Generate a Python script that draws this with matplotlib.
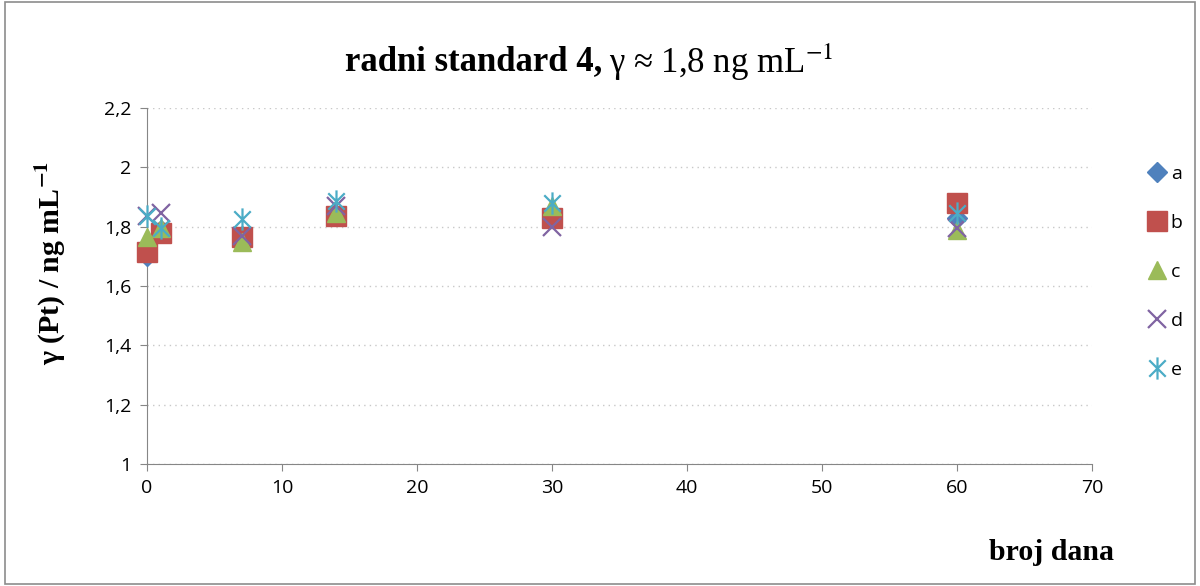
import matplotlib
matplotlib.use("Agg")
import matplotlib.pyplot as plt
from matplotlib.path import Path
from matplotlib.patches import Rectangle
import matplotlib.ticker as mticker

plt.rcParams["mathtext.fontset"] = "stix"

days = [0, 1, 7, 14, 30, 60]
series_names = ["a", "b", "c", "d", "e"]
a = [1.70, 1.79, 1.77, 1.84, 1.84, 1.83]
b = [1.715, 1.78, 1.765, 1.835, 1.83, 1.88]
c = [1.765, 1.795, 1.75, 1.845, 1.87, 1.79]
d = [1.835, 1.845, 1.77, 1.87, 1.80, 1.795]
e = [1.835, 1.795, 1.825, 1.885, 1.88, 1.845]
x_ticks = [0, 10, 20, 30, 40, 50, 60, 70]
y_ticks = [1.0, 1.2, 1.4, 1.6, 1.8, 2.0, 2.2]

star = Path([(-1, -1), (1, 1), (-1, 1), (1, -1), (0, -1.35), (0, 1.35)],
            [Path.MOVETO, Path.LINETO, Path.MOVETO, Path.LINETO, Path.MOVETO, Path.LINETO])

styles = [
    dict(marker="D", color="#4F81BD", ms=10),
    dict(marker="s", color="#C0504D", ms=14),
    dict(marker="^", color="#9BBB59", ms=13),
    dict(marker="x", color="#8064A2", ms=13, mew=1.6),
    dict(marker=star, color="#4BACC6", ms=16, mew=1.6),
]

fig = plt.figure(figsize=(12, 5.86), dpi=100)
fig.patches.append(Rectangle((0.004, 0.004), 0.992, 0.992, transform=fig.transFigure,
                             fill=False, edgecolor="#8c8c8c", lw=1.2))
ax = fig.add_axes([147/1200, 1-464/586, (1092-147)/1200, (464-108)/586])

for name, vals, st in zip(series_names, [a, b, c, d, e], styles):
    ax.plot(days, vals, linestyle="none", marker=st["marker"], color=st["color"],
            markersize=st["ms"], markeredgewidth=st.get("mew", 1.0), label=name,
            clip_on=False, zorder=3)

ax.set_xlim(0, 70)
ax.set_ylim(1.0, 2.2)
ax.set_xticks(x_ticks)
ax.set_yticks(y_ticks)
ax.yaxis.set_major_formatter(mticker.FuncFormatter(lambda v, p: f"{v:g}".replace(".", ",")))
ax.grid(axis="y", linestyle=(0, (1, 3)), color="#c8c8c8", lw=1)
ax.set_axisbelow(True)
for s in ["top", "right"]:
    ax.spines[s].set_visible(False)
for s in ["left", "bottom"]:
    ax.spines[s].set_color("#868686")
ax.tick_params(axis="both", direction="out", length=5, color="#868686",
               labelsize=14, labelcolor="black")
for lab in ax.get_xticklabels() + ax.get_yticklabels():
    lab.set_family("Open Sans")
ax.tick_params(axis="x", pad=6)
ax.tick_params(axis="y", pad=6)

serif = ["Liberation Serif", "DejaVu Serif"]
fig.text(602/1200, 1-62/586, "radni standard 4,", ha="right", va="center",
         fontsize=25, fontweight="bold", family=serif)
fig.text(609/1200, 1-62/586, r"γ ≈ 1,8 ng mL$^{-1}$", ha="left", va="center",
         fontsize=25, family=serif)
fig.text(50/1200, 1-263/586, r"γ (Pt) / ng mL$\mathbf{^{-1}}$", ha="center", va="center",
         rotation=90, fontsize=21.5, fontweight="bold", family=serif)
fig.text(1114/1200, 1-552/586, "broj dana", ha="right", va="center",
         fontsize=21.5, fontweight="bold", family=serif)

leg = fig.legend(loc="center left", bbox_to_anchor=(1128/1200, 1-272/586), frameon=False,
                 labelspacing=1.6, handletextpad=0.1, handlelength=1.2,
                 prop={"family": "Open Sans", "size": 14})

fig.savefig("out.png", dpi=100)
